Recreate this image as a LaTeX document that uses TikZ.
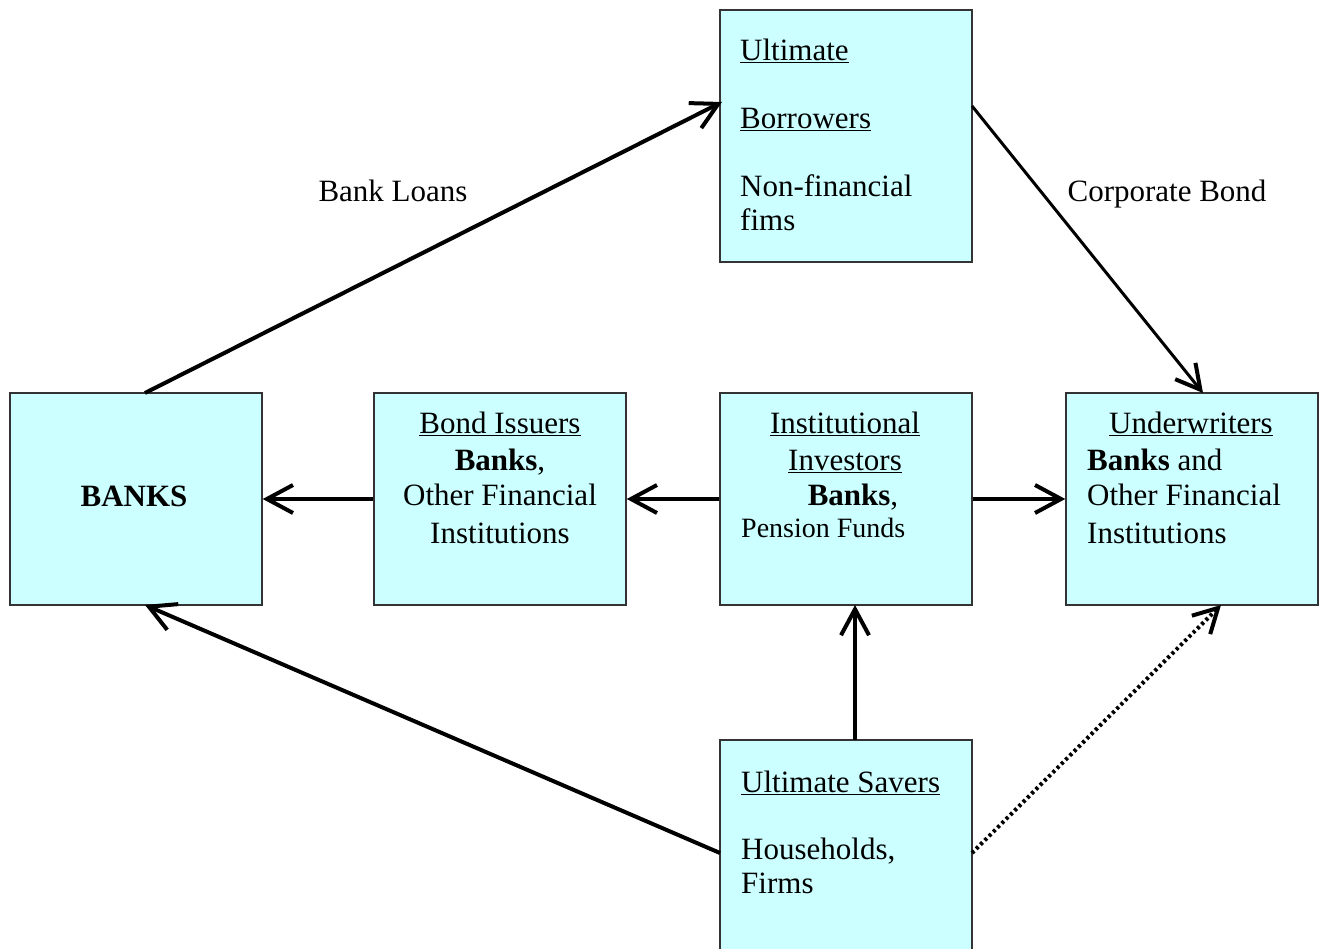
\documentclass[tikz,border=0pt]{standalone}
\usepackage{fontspec}
\setmainfont{Liberation Serif}
\usetikzlibrary{arrows.meta}
\definecolor{boxfill}{HTML}{CCFFFF}
\tikzset{
  box/.style={draw=black!80, line width=1.5pt, fill=boxfill, inner sep=0pt, minimum width=252pt},
  txt/.style={font=\fontsize{31}{34}\selectfont, inner sep=0pt},
  small/.style={font=\fontsize{28}{30}\selectfont, inner sep=0pt},
  conn/.style={line width=4pt, -{Straight Barb[length=26pt,width=28pt,line width=4pt]}},
  thinconn/.style={line width=3pt, -{Straight Barb[length=24pt,width=26pt,line width=4pt]}},
  dotconn/.style={line width=4pt, dash pattern=on 3pt off 3pt, -{Straight Barb[length=24pt,width=26pt,line width=4pt,sep=0pt]}}
}
\begin{document}
\begin{tikzpicture}[x=1pt,y=-1pt]
\useasboundingbox (0,0) rectangle (1321,949);
% boxes
\node[box, minimum height=252pt] (borrow) at (846,136) {};
\node[box, minimum height=212pt] (banks) at (136,499) {};
\node[box, minimum height=212pt] (issuers) at (500,499) {};
\node[box, minimum height=212pt] (invest) at (846,499) {};
\node[box, minimum height=212pt] (under) at (1192,499) {};
\node[box, minimum height=212pt] (savers) at (846,846) {};
% texts: borrowers
\node[txt, anchor=base west] (t1) at (740,61) {\underline{Ultimate}};
\node[txt, anchor=base west] (t2) at (740,129) {\underline{Borrowers}};
\node[txt, anchor=base west] (t3) at (740,197) {Non-financial};
\node[txt, anchor=base west] (t4) at (740,231) {fims};
% banks
\node[txt, anchor=base] (t5) at (134,506) {\textbf{BANKS}};
% issuers
\node[txt, anchor=base] (t6) at (500,433) {\underline{Bond Issuers}};
\node[txt, anchor=base] (t7) at (500,470) {\textbf{Banks},};
\node[txt, anchor=base] (t8) at (500,505) {Other Financial};
\node[txt, anchor=base] (t9) at (500,543) {Institutions};
% investors
\node[txt, anchor=base] (t10) at (845,433) {\underline{Institutional}};
\node[txt, anchor=base] (t11) at (845,470) {\underline{Investors}};
\node[txt, anchor=base] (t12) at (853,505) {\textbf{Banks},};
\node[small, anchor=base west] (t13) at (741,537) {Pension Funds};
% underwriters
\node[txt, anchor=base] (t14) at (1191,433) {\underline{Underwriters}};
\node[txt, anchor=base west] (t15) at (1087,470) {\textbf{Banks} and};
\node[txt, anchor=base west] (t16) at (1087,505) {Other Financial};
\node[txt, anchor=base west] (t17) at (1087,543) {Institutions};
% savers
\node[txt, anchor=base west] (t18) at (741,792) {\underline{Ultimate Savers}};
\node[txt, anchor=base west] (t19) at (741,859) {Households,};
\node[txt, anchor=base west] (t20) at (741,893) {Firms};
% labels
\node[txt, anchor=base] (l1) at (393,202) {Bank Loans};
\node[txt, anchor=base] (l2) at (1167,202) {Corporate Bond};
% connectors
\coordinate (bTop) at (145,393);
\coordinate (bBot) at (145,605);
\coordinate (borL) at (722,102);
\coordinate (borR) at (972,106);
\coordinate (unT) at (1203,393);
\coordinate (unB) at (1221,605);
\coordinate (svL) at (720,853);
\coordinate (svR) at (972,853);
\coordinate (svT) at (855,740);
\coordinate (inB) at (855,605);
\draw[conn] (bTop) -- (borL);
\draw[thinconn] (borR) -- (unT);
\draw[conn] (issuers.west) -- (banks.east);
\draw[conn] (invest.west) -- (issuers.east);
\draw[conn] (invest.east) -- (under.west);
\draw[conn] (svT) -- (inB);
\draw[conn] (svL) -- (bBot);
\draw[dotconn] (svR) -- (unB);
\end{tikzpicture}
\end{document}
